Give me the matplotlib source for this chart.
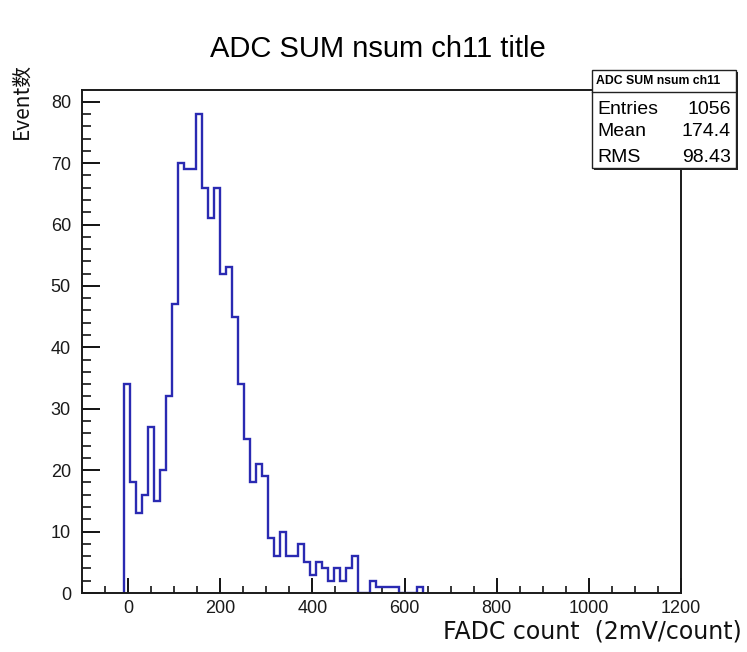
import numpy as np
import matplotlib.pyplot as plt
from matplotlib.patches import Rectangle

# histogram binning (ROOT style: 100 bins from -100 to 1200)
x_lo, x_hi, n_bins = -100, 1200, 100
first_bin = 7          # first filled bin starts at -9
counts = [34, 18, 13, 16, 27, 15, 20, 32, 47, 70,
          69, 69, 78, 66, 61, 66, 52, 53, 45, 34,
          25, 18, 21, 19, 9, 6, 10, 6, 6, 8,
          5, 3, 5, 4, 2, 4, 2, 4, 6, 0,
          0, 2, 1, 1, 1, 1, 0, 0, 0, 1]

x_ticks = [0, 200, 400, 600, 800, 1000, 1200]
y_ticks = [0, 10, 20, 30, 40, 50, 60, 70, 80]

title = 'ADC SUM nsum ch11 title'
stats_name = 'ADC SUM nsum ch11'
stats_rows = [('Entries', '1056'), ('Mean', '174.4'), ('RMS', '98.43')]

W, H = 747, 652
def fx(px): return px / W
def fy(py): return 1 - py / H

plt.rcParams['font.family'] = ['Liberation Sans', 'DejaVu Sans']
fig = plt.figure(figsize=(W / 100, H / 100), dpi=100)
ax = fig.add_axes([fx(82), fy(593), fx(681) - fx(82), fy(90) - fy(593)])

bw = (x_hi - x_lo) / n_bins
edges = x_lo + bw * np.arange(first_bin, first_bin + len(counts) + 1)
ax.stairs(counts, edges, baseline=0, color='#2a2ab2', linewidth=1.7, zorder=2)

ax.set_xlim(x_lo, x_hi)
ax.set_ylim(0, 78 * 1.05)
ax.set_xticks(x_ticks)
ax.set_yticks(y_ticks)
ax.set_xticks(np.arange(-100, 1201, 50), minor=True)
ax.set_yticks(np.arange(0, 82, 2), minor=True)
ax.tick_params(axis='x', which='major', direction='in', length=10.5, width=1.3, labelsize=13, pad=5)
ax.tick_params(axis='x', which='minor', direction='in', length=5.3, width=1.1)
ax.tick_params(axis='y', which='major', direction='in', length=13, width=1.3, labelsize=13, pad=8)
ax.tick_params(axis='y', which='minor', direction='in', length=6.5, width=1.1)
ax.tick_params(labelcolor='#1a1a1a')
for s in ax.spines.values():
    s.set_linewidth(1.4)
    s.set_color('#1a1a1a')
    s.set_zorder(3)

fig.text(fx(378), fy(49), title, ha='center', va='center', fontsize=21)
fig.text(fx(742), fy(631), 'FADC count  (2mV/count)', ha='right', va='center',
         fontsize=17, family=['DejaVu Sans'], color='#111111')
fig.text(fx(22), fy(101), 'Event数', rotation=90, ha='center', va='center',
         fontsize=15, family=['Noto Sans CJK SC', 'DejaVu Sans'], color='#111111')

# stats box
bx0, by0, bx1, by1 = 592, 70, 736, 168
fig.add_artist(Rectangle((fx(bx0 + 2), fy(by1 + 2)), fx(bx1) - fx(bx0), fy(by0) - fy(by1),
                         transform=fig.transFigure, facecolor='#222222', edgecolor='none', zorder=4))
fig.add_artist(Rectangle((fx(bx0), fy(by1)), fx(bx1) - fx(bx0), fy(by0) - fy(by1),
                         transform=fig.transFigure, facecolor='white', edgecolor='#222222',
                         linewidth=1.0, zorder=5))
fig.add_artist(plt.Line2D([fx(bx0), fx(bx1)], [fy(92), fy(92)], transform=fig.transFigure,
                          color='#222222', linewidth=1.0, zorder=6))
fig.text(fx(596), fy(81), stats_name, ha='left', va='center', fontsize=8.8,
         fontweight='bold', zorder=7)
for i, (k, v) in enumerate(stats_rows):
    yy = [109, 131, 157][i]
    fig.text(fx(597), fy(yy), k, ha='left', va='center', fontsize=14, zorder=7)
    fig.text(fx(731), fy(yy), v, ha='right', va='center', fontsize=14, zorder=7)

fig.savefig('out.png', dpi=100)
